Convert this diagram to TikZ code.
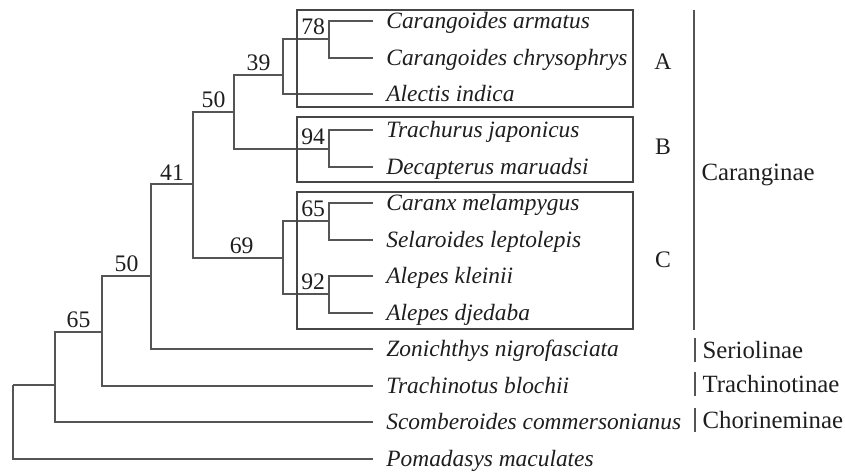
\documentclass[tikz,border=0pt]{standalone}
\usepackage{fontspec}
\setmainfont{Liberation Serif}
\usepackage{xcolor}
\usepackage{tikz}
\usetikzlibrary{positioning}
\definecolor{trline}{RGB}{85,85,85}
\definecolor{trbox}{RGB}{70,70,70}
\definecolor{trink}{RGB}{30,30,30}
\tikzset{
  br/.style={draw=trline, line width=0.75pt},
  cbox/.style={draw=trbox, line width=0.7pt},
  leaf/.style={
    anchor=west, inner xsep=6.5pt, inner ysep=0pt,
    text height=7.8pt, text depth=0pt, text=trink,
    font=\fontsize{11.7}{14}\selectfont\itshape
  },
  sub/.style={
    anchor=west, inner xsep=3.6pt, inner ysep=2pt,
    text height=8pt, text depth=0pt, text=trink,
    font=\fontsize{12.4}{14}\selectfont
  },
  bs/.style={inner sep=1.6pt, anchor=south, text=trink},
  bsr/.style={bs, anchor=south east},
  grpl/.style={text=trink},
  every picture/.append style={font=\fontsize{11.85}{14}\selectfont}
}

\begin{document}
\begin{tikzpicture}[x=0.5pt, y=-0.5pt]
  \useasboundingbox (0,0) rectangle (845,472);
  % species
  \node[leaf] (arm) at (373,21) {Carangoides armatus};
  \node[leaf] (chr) at (373,58) {Carangoides chrysophrys};
  \node[leaf] (ale) at (373,94) {Alectis indica};
  \node[leaf] (tra) at (373,130) {Trachurus japonicus};
  \node[leaf] (dec) at (373,167) {Decapterus maruadsi};
  \node[leaf] (car) at (373,203) {Caranx melampygus};
  \node[leaf] (sel) at (373,240) {Selaroides leptolepis};
  \node[leaf] (kle) at (373,276) {Alepes kleinii};
  \node[leaf] (dje) at (373,313) {Alepes djedaba};
  \node[leaf] (zon) at (373,349) {Zonichthys nigrofasciata};
  \node[leaf] (tch) at (373,386) {Trachinotus blochii};
  \node[leaf] (sco) at (373,422) {Scomberoides commersonianus};
  \node[leaf] (pom) at (373,459) {Pomadasys maculates};
  % internal nodes
  \coordinate (n78) at (329,39);
  \coordinate (n39) at (283,75);
  \coordinate (n94) at (329,149);
  \coordinate (n50a) at (234,112);
  \coordinate (n65a) at (329,221);
  \coordinate (n92) at (329,294);
  \coordinate (n69) at (283,258);
  \coordinate (n41) at (193,184);
  \coordinate (n50b) at (151,276);
  \coordinate (n65b) at (102,332);
  \coordinate (nsc) at (55,385);
  \coordinate (root) at (13,385);
  % branches
  \draw[br] (n78) |- (arm.west);
  \draw[br] (n78) |- (chr.west);
  \draw[br] (n39) |- node[bsr, pos=1] {78} (n78);
  \draw[br] (n39) |- (ale.west);
  \draw[br] (n94) |- (tra.west);
  \draw[br] (n94) |- (dec.west);
  \draw[br] (n50a) |- node[bs, pos=0.75] {39} (n39);
  \draw[br] (n50a) |- node[bsr, pos=1] {94} (n94);
  \draw[br] (n65a) |- (car.west);
  \draw[br] (n65a) |- (sel.west);
  \draw[br] (n92) |- (kle.west);
  \draw[br] (n92) |- (dje.west);
  \draw[br] (n69) |- node[bsr, pos=1] {65} (n65a);
  \draw[br] (n69) |- node[bsr, pos=1] {92} (n92);
  \draw[br] (n41) |- node[bs, pos=0.75] {50} (n50a);
  \draw[br] (n41) |- node[bs, pos=0.77] {69} (n69);
  \draw[br] (n50b) |- node[bs, pos=0.75] {41} (n41);
  \draw[br] (n50b) |- (zon.west);
  \draw[br] (n65b) |- node[bs, pos=0.75] {50} (n50b);
  \draw[br] (n65b) |- (tch.west);
  \draw[br] (nsc) |- node[bs, pos=0.75] {65} (n65b);
  \draw[br] (nsc) |- (sco.west);
  \draw[br] (root) |- (nsc);
  \draw[br] (root) |- (pom.west);
  % clade boxes
  \draw[cbox] (297,10) rectangle (633,107);
  \draw[cbox] (297,117) rectangle (633,182);
  \draw[cbox] (297,192) rectangle (633,329);
  \node[grpl] (ga) at (663,62) {A};
  \node[grpl] (gb) at (663,147) {B};
  \node[grpl] (gc) at (663,260) {C};
  % subfamilies
  \coordinate (cartop) at (694,10);
  \coordinate (carbot) at (694,330);
  \draw[br] (cartop) -- (carbot);
  \node[sub] (cara) at (694,172) {Caranginae};
  \node[sub] (seri) at (695,350) {Seriolinae};
  \node[sub] (trac) at (695,384) {Trachinotinae};
  \node[sub] (chor) at (695,420) {Chorineminae};
  \draw[br] (seri.north west) -- (seri.south west);
  \draw[br] (trac.north west) -- (trac.south west);
  \draw[br] (chor.north west) -- (chor.south west);
\end{tikzpicture}
\end{document}
